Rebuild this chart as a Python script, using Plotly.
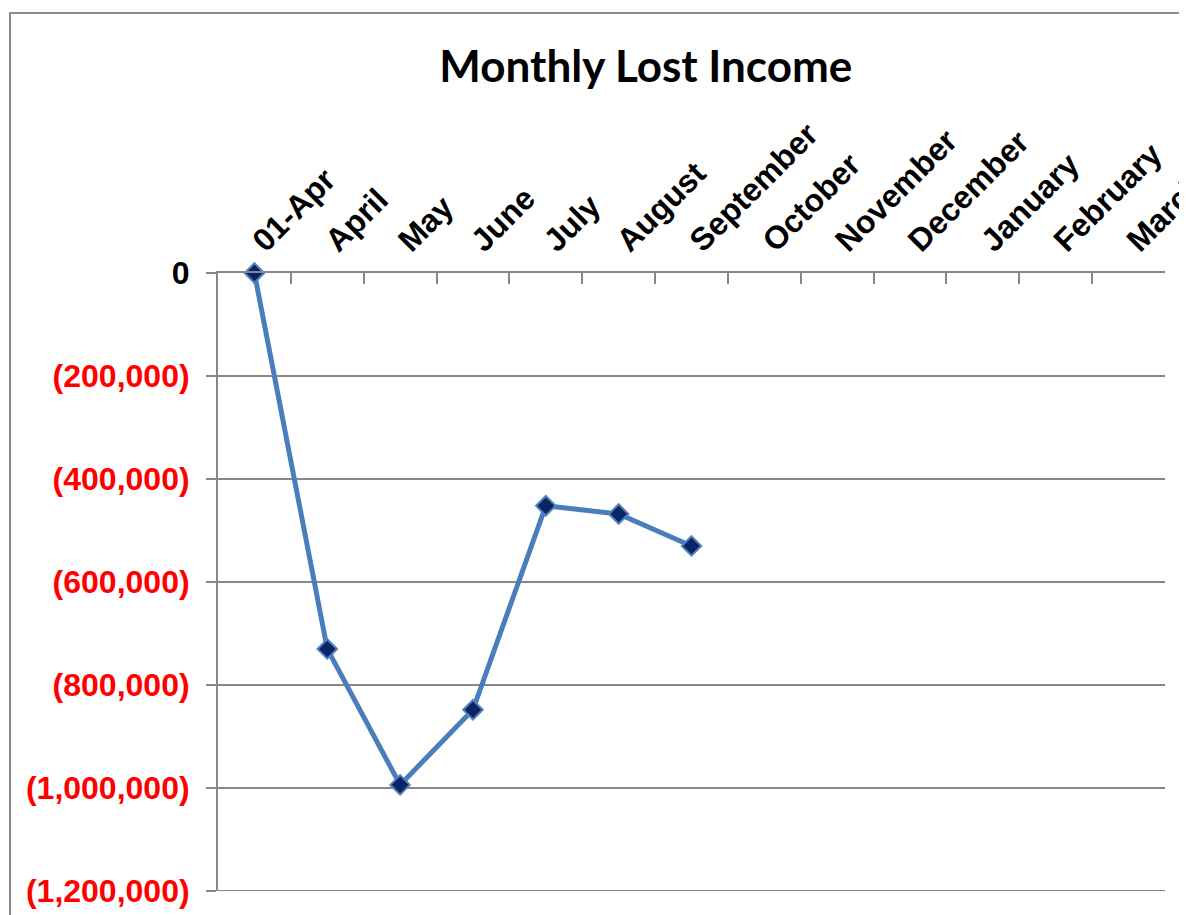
import plotly.graph_objects as go

categories = ["01-Apr", "April", "May", "June", "July", "August", "September",
              "October", "November", "December", "January", "February", "March"]
lost_income = [0, -730000, -994000, -848000, -452000, -468000, -530000,
               None, None, None, None, None, None]
y_tick_values = [0, -200000, -400000, -600000, -800000, -1000000, -1200000]
y_tick_labels = ["0", "(200,000)", "(400,000)", "(600,000)", "(800,000)",
                 "(1,000,000)", "(1,200,000)"]

ytext = [t if v == 0 else '<span style="color:#FF0000">' + t + '</span>'
         for v, t in zip(y_tick_values, y_tick_labels)]

fig = go.Figure()
fig.add_trace(go.Scatter(
    x=categories, y=lost_income, mode="lines+markers",
    line=dict(color="#4A7EBB", width=5),
    marker=dict(symbol="diamond", size=15, color="#0B2463",
                line=dict(color="#4F81BD", width=2)),
    connectgaps=False, showlegend=False, cliponaxis=False,
))

fig.update_layout(
    width=1179, height=907,
    margin=dict(l=210, r=22, t=265, b=24),
    paper_bgcolor="white", plot_bgcolor="white",
    title=dict(text="<b>Monthly Lost Income</b>", x=0.541, xanchor="center",
               y=0.935, yanchor="middle",
               font=dict(family="Lato, Arial", size=44, color="black")),
    font=dict(family="Liberation Sans, Arial", color="black"),
    xaxis=dict(
        type="category", categoryorder="array", categoryarray=categories,
        side="top", range=[-0.5, 12.5], automargin=False,
        tickangle=-45, tickson="boundaries", ticks="inside", ticklen=11,
        tickcolor="#878787", tickwidth=2,
        showline=True, linecolor="#878787", linewidth=2,
        showgrid=False, zeroline=False,
        tickfont=dict(family="Liberation Sans, Arial", size=32, color="black",
                      weight="bold"),
    ),
    yaxis=dict(
        range=[-1200000, 0], tickvals=y_tick_values, ticktext=ytext,
        automargin=False,
        ticks="outside", ticklen=10, tickcolor="#878787", tickwidth=2,
        showline=True, linecolor="#878787", linewidth=2,
        showgrid=True, gridcolor="#878787", gridwidth=2,
        zeroline=False,
        tickfont=dict(family="Liberation Sans, Arial", size=32, color="black",
                      weight="bold"),
        ticklabelstandoff=10,
    ),
)

# bottom gridline at the last tick value (plotly omits the gridline at the range edge)
fig.add_shape(type="line", xref="paper", yref="y", x0=0, x1=1,
              y0=y_tick_values[-1], y1=y_tick_values[-1],
              line=dict(color="#878787", width=2), layer="below")

fig.add_shape(type="rect", xref="paper", yref="paper",
              x0=(2 - 210) / 947, x1=1.2, y0=-0.5, y1=1 + (265 - 5) / 618,
              line=dict(color="#8C8C8C", width=2), layer="below")

fig.write_html("out.html")
